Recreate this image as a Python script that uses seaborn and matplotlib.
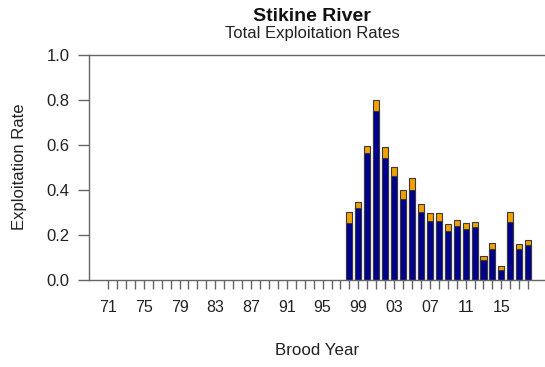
import matplotlib
matplotlib.use("Agg")
import matplotlib.pyplot as plt
import numpy as np
import pandas as pd
import seaborn as sns

# Brood years shown on the axis (1971-2018); rates exist from 1998 on
axis_years = list(range(1971, 2019))
data_years = list(range(1998, 2019))

# Lower (navy) component and upper (orange) increment of the total rate
rate_lower = [0.250, 0.320, 0.565, 0.750, 0.540, 0.460, 0.360, 0.400, 0.300, 0.260,
              0.260, 0.215, 0.240, 0.227, 0.236, 0.085, 0.136, 0.042, 0.254, 0.136,
              0.152]
rate_upper = [0.050, 0.023, 0.028, 0.048, 0.050, 0.040, 0.040, 0.052, 0.036, 0.038,
              0.038, 0.031, 0.026, 0.024, 0.021, 0.020, 0.026, 0.020, 0.047, 0.024,
              0.024]

y_ticks = [0.0, 0.2, 0.4, 0.6, 0.8, 1.0]

df = pd.DataFrame({
    "year": [str(y) for y in data_years],
    "lower": rate_lower,
    "upper": rate_upper,
})
df["total"] = df["lower"] + df["upper"]
order = [str(y) for y in axis_years]

sns.set_style("white")
plt.rcParams["font.family"] = ["Liberation Sans", "DejaVu Sans"]

W, H = 545, 367
fig = plt.figure(figsize=(W / 100, H / 100), dpi=100)
ax = fig.add_axes([89 / W, 1 - 279.5 / H, (W - 89) / W, 224.5 / H])

edge = "#3a3a3a"
sns.barplot(data=df, x="year", y="total", order=order, color="#F2A100",
            saturation=1, errorbar=None, width=0.68, edgecolor=edge,
            linewidth=0.8, ax=ax)
sns.barplot(data=df, x="year", y="lower", order=order, color="#00008B",
            saturation=1, errorbar=None, width=0.68, edgecolor=edge,
            linewidth=0.8, ax=ax)

ax.set_xlim(-2.125, 48.88)
ax.set_ylim(0, 1.0)
ax.set_yticks(y_ticks)
ax.set_yticklabels([f"{v:.1f}" for v in y_ticks])
ax.set_xticks(range(len(axis_years)))
ax.set_xticklabels([f"{y % 100:02d}" if (y - 1971) % 4 == 0 else "" for y in axis_years])

spine_col = "#666666"
for side in ["left", "top", "bottom"]:
    ax.spines[side].set_visible(True)
    ax.spines[side].set_color(spine_col)
    ax.spines[side].set_linewidth(1.0)
ax.spines["right"].set_visible(False)

ax.tick_params(axis="y", direction="out", length=8, width=1, color=spine_col,
               pad=6, labelsize=12, labelcolor="#222222", left=True)
ax.tick_params(axis="x", direction="out", length=6.5, width=1, color=spine_col,
               pad=8, labelsize=11.5, labelcolor="#222222", bottom=True)

ax.set_xlabel("Brood Year", fontsize=12.2, color="#222222")
ax.set_ylabel("Exploitation Rate", fontsize=12, color="#222222")
ax.xaxis.set_label_coords(0.5, -0.283)
ax.yaxis.set_label_coords(-0.137, 0.5)

fig.text(312 / W, 1 - 20.7 / H, "Stikine River", ha="center", va="baseline",
         fontsize=14, fontweight="bold", color="#111111")
fig.text(312 / W, 1 - 37.7 / H, "Total Exploitation Rates", ha="center",
         va="baseline", fontsize=12, color="#222222")

fig.savefig("out.png", dpi=100)
